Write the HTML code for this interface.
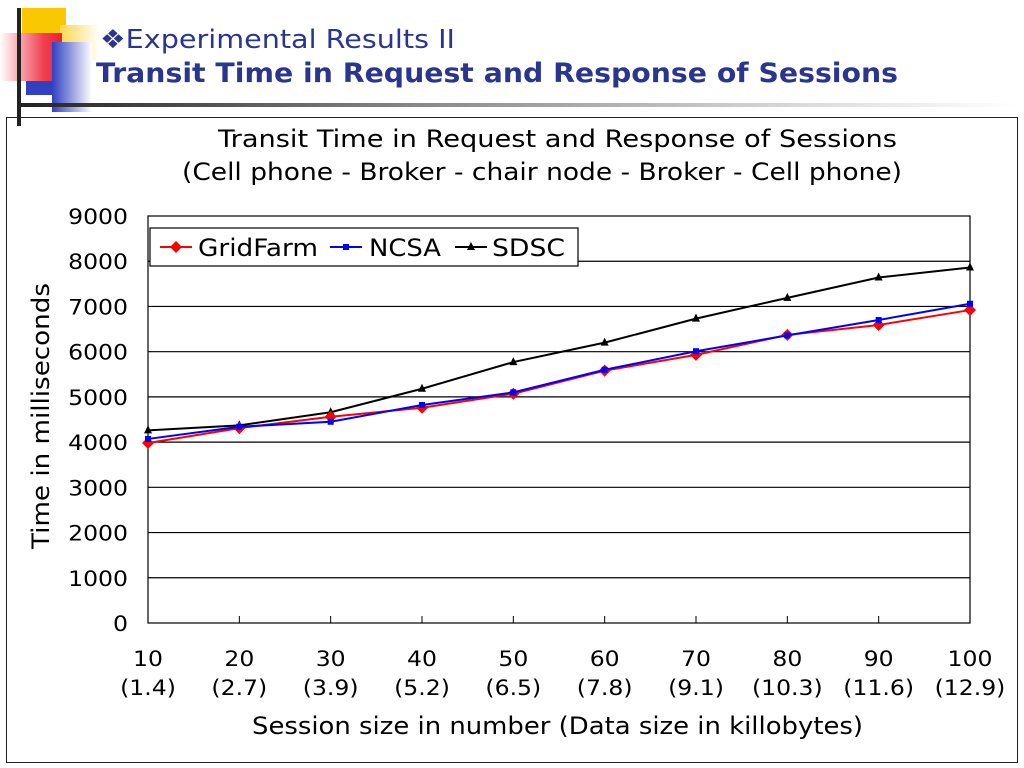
<!DOCTYPE html>
<html><head><meta charset="utf-8"><style>
body{margin:0;width:1024px;height:768px;background:#fff;overflow:hidden;position:relative;font-family:"DejaVu Sans","Liberation Sans",sans-serif}
.abs{position:absolute}
</style></head><body>
<div class="abs" style="left:22px;top:8px;width:44px;height:40px;background:#f9c800"></div>
<div class="abs" style="left:60px;top:25px;width:40px;height:35px;background:linear-gradient(90deg,#fbd84a,#fff)"></div>
<div class="abs" style="left:0;top:33px;width:62px;height:48px;background:linear-gradient(90deg,#fff,#f04050 70%,#ee2030)"></div>
<div class="abs" style="left:26px;top:81px;width:30px;height:14px;background:#3040c0"></div>
<div class="abs" style="left:52px;top:42px;width:40px;height:70px;background:linear-gradient(90deg,#3040c0,#fff)"></div>
<div class="abs" style="left:17px;top:8px;width:4px;height:118px;background:#222"></div>
<div class="abs" style="left:17px;top:103px;width:1000px;height:4px;background:linear-gradient(90deg,#222,#888 40%,#ddd 80%,#fff)"></div>
<div class="abs" style="left:6px;top:117px;width:1012px;height:646px;border:1.5px solid #222;box-sizing:border-box"></div>
<svg class="abs" style="left:0;top:0" width="1024" height="768" font-family="DejaVu Sans, Liberation Sans, sans-serif">
<text x="100" y="48" font-size="26" fill="#2a3590" textLength="355" lengthAdjust="spacingAndGlyphs">❖Experimental Results II</text>
<text x="96" y="82" font-size="27" font-weight="bold" fill="#2a3590" textLength="802" lengthAdjust="spacingAndGlyphs">Transit Time in Request and Response of Sessions</text>
<text x="218" y="147" font-size="24" textLength="679" lengthAdjust="spacingAndGlyphs">Transit Time in Request and Response of Sessions</text>
<text x="182" y="180" font-size="24" textLength="720" lengthAdjust="spacingAndGlyphs">(Cell phone - Broker - chair node - Broker - Cell phone)</text>
<g id="grid"></g><g id="axes"></g><g id="series"></g>
<text transform="translate(49,549) rotate(-90)" font-size="24" textLength="266" lengthAdjust="spacingAndGlyphs">Time in milliseconds</text>
<text x="252" y="734" font-size="24" textLength="611" lengthAdjust="spacingAndGlyphs">Session size in number (Data size in killobytes)</text>
<g>
<rect x="150" y="228" width="428" height="38" fill="#fff" stroke="#000" stroke-width="1.2"/>
<line x1="160" y1="247" x2="192" y2="247" stroke="#f00" stroke-width="2"/><path d="M176 241L182 247L176 253L170 247Z" fill="#f00"/>
<text x="198" y="256" font-size="24" textLength="120" lengthAdjust="spacingAndGlyphs">GridFarm</text>
<line x1="330" y1="247" x2="362" y2="247" stroke="#00f" stroke-width="2"/><rect x="343" y="244" width="6" height="6" fill="#00f"/>
<text x="369" y="256" font-size="24" textLength="72" lengthAdjust="spacingAndGlyphs">NCSA</text>
<line x1="455" y1="247" x2="487" y2="247" stroke="#000" stroke-width="2"/><path d="M471 242L475 250L467 250Z" fill="#000"/>
<text x="492" y="256" font-size="24" textLength="73" lengthAdjust="spacingAndGlyphs">SDSC</text>
</g>
</svg>
<script>
const categories=["10","20","30","40","50","60","70","80","90","100"];
const subLabels=["(1.4)","(2.7)","(3.9)","(5.2)","(6.5)","(7.8)","(9.1)","(10.3)","(11.6)","(12.9)"];
const yTicks=[0,1000,2000,3000,4000,5000,6000,7000,8000,9000];
const gridFarm=[3980,4310,4560,4760,5070,5580,5930,6370,6590,6920];
const ncsa=[4070,4340,4450,4820,5100,5600,6010,6360,6700,7060];
const sdsc=[4260,4370,4660,5180,5770,6200,6730,7190,7640,7860];
const NS="http://www.w3.org/2000/svg";
const X0=148,X1=970,Y0=623,Y1=216;
const xs=i=>X0+i*(X1-X0)/(categories.length-1);
const ys=v=>Y0-(v/9000)*(Y0-Y1);
function mk(t,a,p){const e=document.createElementNS(NS,t);for(const k in a)e.setAttribute(k,a[k]);p.appendChild(e);return e;}
function widen(t){const w=t.getComputedTextLength();t.setAttribute('textLength',(w*1.12).toFixed(1));t.setAttribute('lengthAdjust','spacingAndGlyphs');}
const grid=document.getElementById('grid'),axes=document.getElementById('axes'),ser=document.getElementById('series');
mk('rect',{x:X0,y:Y1,width:X1-X0,height:Y0-Y1,fill:'#fff',stroke:'#000','stroke-width':1.2},grid);
yTicks.forEach(v=>{
 if(v>0&&v<9000){const l=mk('line',{x1:X0,x2:X1,y1:ys(v),y2:ys(v),stroke:'#000','stroke-width':1.2},grid);
 
 }
 const t=mk('text',{x:128,y:ys(v)+8,'font-size':21,'text-anchor':'end'},axes);t.textContent=v;widen(t);
 
 
});
categories.forEach((c,i)=>{
 mk('line',{x1:xs(i),x2:xs(i),y1:Y0,y2:Y0-7,stroke:'#000','stroke-width':1},axes);
 const t=mk('text',{x:xs(i),y:666,'font-size':21,'text-anchor':'middle'},axes);t.textContent=c;widen(t);
 
 
 const s=mk('text',{x:xs(i),y:695,'font-size':21,'text-anchor':'middle'},axes);s.textContent=subLabels[i];widen(s);
 
 
});
function draw(vals,col,name,marker){
 const g=mk('g',{},ser);
 
 
 mk('polyline',{points:vals.map((v,i)=>xs(i)+','+ys(v)).join(' '),fill:'none',stroke:col,'stroke-width':2},g);
 vals.forEach((v,i)=>{const x=xs(i),y=ys(v);let m;
  if(marker==='d')m=mk('path',{d:`M${x} ${y-6}L${x+6} ${y}L${x} ${y+6}L${x-6} ${y}Z`,fill:col},g);
  else if(marker==='s')m=mk('rect',{x:x-3,y:y-3,width:6,height:6,fill:col},g);
  else m=mk('path',{d:`M${x} ${y-5}L${x+4} ${y+3}L${x-4} ${y+3}Z`,fill:col},g);
  
  });
}
draw(sdsc,'#000','sdsc','t');
draw(gridFarm,'#f00','gridfarm','d');
draw(ncsa,'#00f','ncsa','s');
</script>
</body></html>
